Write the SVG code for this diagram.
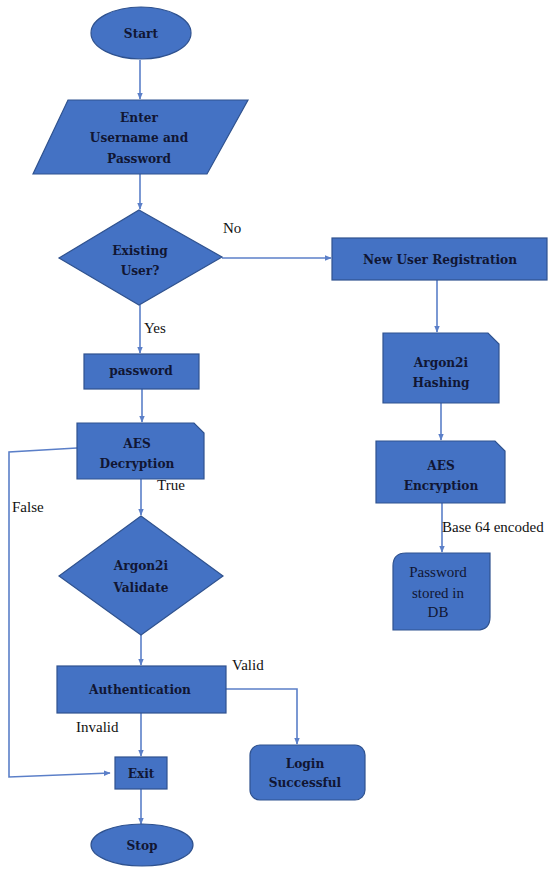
<svg xmlns="http://www.w3.org/2000/svg" width="548" height="873" viewBox="0 0 548 873">
<defs>
<marker id="arr" viewBox="0 0 10 10" refX="9" refY="5" markerWidth="7" markerHeight="7" orient="auto" markerUnits="userSpaceOnUse">
<path d="M0,1 L10,5 L0,9 z" fill="#5B7FC8"/>
</marker>
<style>
.shape{fill:#4472C4;stroke:#2F528F;stroke-width:1.2}
.t{font-family:"DejaVu Serif Condensed","DejaVu Serif",serif;font-weight:bold;font-size:13.5px;fill:#111633;text-anchor:middle}
.n{font-family:"Liberation Serif","DejaVu Serif",serif;font-size:15px;fill:#111633;text-anchor:middle}
.lbl{font-family:"Liberation Serif","DejaVu Serif",serif;font-size:15px;fill:#111111}
.c{fill:none;stroke:#5B7FC8;stroke-width:1.6}
</style>
</defs>
<rect width="548" height="873" fill="#ffffff"/>
<g id="connectors">
<path class="c" d="M140,60 L140,99" marker-end="url(#arr)"/>
<path class="c" d="M140,174 L140,209" marker-end="url(#arr)"/>
<path class="c" d="M222,258 L331,258" marker-end="url(#arr)"/>
<path class="c" d="M140,305 L140,353" marker-end="url(#arr)"/>
<path class="c" d="M437,280 L437,332" marker-end="url(#arr)"/>
<path class="c" d="M441,403 L441,440" marker-end="url(#arr)"/>
<path class="c" d="M442,503 L442,552" marker-end="url(#arr)"/>
<path class="c" d="M142,389 L142,422" marker-end="url(#arr)"/>
<path class="c" d="M77,448 L9,452 L9,777 L110,773" marker-end="url(#arr)"/>
<path class="c" d="M141,479 L141,515" marker-end="url(#arr)"/>
<path class="c" d="M141,635 L141,665" marker-end="url(#arr)"/>
<path class="c" d="M226,689 L297,689 L297,744" marker-end="url(#arr)"/>
<path class="c" d="M141,713 L141,756" marker-end="url(#arr)"/>
<path class="c" d="M141,789 L141,824" marker-end="url(#arr)"/>
<text class="lbl" x="223" y="233">No</text>
<text class="lbl" x="144" y="333">Yes</text>
<text class="lbl" x="157" y="490">True</text>
<text class="lbl" x="12" y="512">False</text>
<text class="lbl" x="442" y="532">Base 64 encoded</text>
<text class="lbl" x="232" y="670">Valid</text>
<text class="lbl" x="76" y="732">Invalid</text>
</g>
<g id="start">
<ellipse class="shape" cx="141" cy="33" rx="50" ry="26"/>
<text class="t" x="141" y="38">Start</text>
</g>
<g id="enter">
<polygon class="shape" points="68,100 248,100 207,174 33,174"/>
<text class="t" x="139" y="122">Enter</text>
<text class="t" x="139" y="142">Username and</text>
<text class="t" x="139" y="163">Password</text>
</g>
<g id="existing">
<polygon class="shape" points="139,210 222,257 139,305 59,258"/>
<text class="t" x="140" y="255">Existing</text>
<text class="t" x="140" y="275">User?</text>
</g>
<g id="newuser">
<rect class="shape" x="332" y="238" width="215" height="42"/>
<text class="t" x="440" y="264">New User Registration</text>
</g>
<g id="hashing">
<path class="shape" d="M383,333 L488,333 L499,344 L499,403 L383,403 z"/>
<text class="t" x="441" y="367">Argon2i</text>
<text class="t" x="441" y="387">Hashing</text>
</g>
<g id="encryption">
<path class="shape" d="M376,441 L495,441 L505,451 L505,503 L376,503 z"/>
<text class="t" x="441" y="470">AES</text>
<text class="t" x="441" y="490">Encryption</text>
</g>
<g id="stored">
<path class="shape" d="M406,553 L490,553 L490,617 Q490,630 477,630 L393,630 L393,566 Q393,553 406,553 z"/>
<text class="n" x="438" y="577">Password</text>
<text class="n" x="438" y="598">stored in</text>
<text class="n" x="438" y="617">DB</text>
</g>
<g id="password">
<rect class="shape" x="84" y="354" width="115" height="35"/>
<text class="t" x="141" y="375">password</text>
</g>
<g id="decryption">
<path class="shape" d="M77,423 L194,423 L204,433 L204,479 L77,479 z"/>
<text class="t" x="137" y="448">AES</text>
<text class="t" x="137" y="468">Decryption</text>
</g>
<g id="validate">
<polygon class="shape" points="141,516 223,576 141,635 59,576"/>
<text class="t" x="141" y="570">Argon2i</text>
<text class="t" x="141" y="592">Validate</text>
</g>
<g id="authentication">
<rect class="shape" x="57" y="666" width="169" height="47"/>
<text class="t" x="140" y="694">Authentication</text>
</g>
<g id="login">
<rect class="shape" x="250" y="745" width="115" height="55" rx="10"/>
<text class="t" x="305" y="768">Login</text>
<text class="t" x="305" y="787">Successful</text>
</g>
<g id="exit">
<rect class="shape" x="115" y="757" width="52" height="32"/>
<text class="t" x="141" y="778">Exit</text>
</g>
<g id="stop">
<ellipse class="shape" cx="142" cy="845" rx="51" ry="21"/>
<text class="t" x="142" y="850">Stop</text>
</g>
</svg>
